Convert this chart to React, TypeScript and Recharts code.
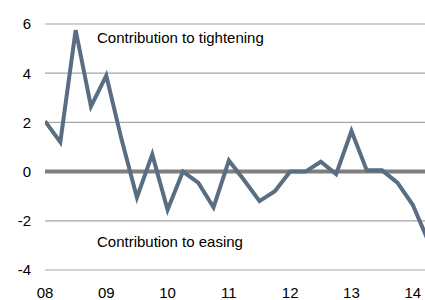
import React from 'react';
import { LineChart, Line, XAxis, YAxis, CartesianGrid, ReferenceLine } from 'recharts';

const quarters = [
  2008, 2008.25, 2008.5, 2008.75,
  2009, 2009.25, 2009.5, 2009.75,
  2010, 2010.25, 2010.5, 2010.75,
  2011, 2011.25, 2011.5, 2011.75,
  2012, 2012.25, 2012.5, 2012.75,
  2013, 2013.25, 2013.5, 2013.75,
  2014, 2014.25,
];
const values = [
  2.05, 1.2, 5.75, 2.65,
  3.9, 1.3, -1.05, 0.7,
  -1.55, 0.0, -0.45, -1.45,
  0.45, -0.35, -1.2, -0.8,
  0.0, 0.0, 0.4, -0.1,
  1.65, 0.05, 0.05, -0.45,
  -1.35, -2.8,
];
const xTicks = [2008, 2009, 2010, 2011, 2012, 2013, 2014];
const yTicks = [-4, -2, 0, 2, 4, 6];
const annotationTop = 'Contribution to tightening';
const annotationBottom = 'Contribution to easing';

const data = quarters.map((q, i) => ({ q, v: values[i] }));

const font = 'Liberation Sans, Arial, sans-serif';

export default function App() {
  return (
    <div style={{ position: 'absolute', left: 0, top: 0, width: 425, height: 300, fontFamily: font }}>
      <LineChart width={425} height={300} data={data} margin={{ top: 24, right: 0, bottom: 0, left: 0 }}>
        <CartesianGrid vertical={false} stroke="#a6a6a6" strokeWidth={1.2} />
        <XAxis
          dataKey="q"
          type="number"
          domain={[2008, 2014.2]}
          allowDataOverflow
          ticks={xTicks}
          tickFormatter={(v: number) => String(v).slice(2)}
          axisLine={false}
          tickLine={false}
          tickMargin={11}
          height={30}
          tick={{ fill: '#000', fontSize: 15, fontFamily: font }}
          interval={0}
        />
        <YAxis
          domain={[-4, 6]}
          ticks={yTicks}
          axisLine={false}
          tickLine={false}
          tickMargin={8}
          width={45}
          tick={{ fill: '#000', fontSize: 15, fontFamily: font }}
          interval={0}
        />
        <ReferenceLine y={0} stroke="#7f7f7f" strokeWidth={4} />
        <Line
          type="linear"
          dataKey="v"
          stroke="#596d83"
          strokeWidth={4}
          dot={false}
          isAnimationActive={false}
        />
      </LineChart>
      <div style={{ position: 'absolute', left: 97, top: 29, fontSize: 15, color: '#000', whiteSpace: 'nowrap' }}>
        {annotationTop}
      </div>
      <div style={{ position: 'absolute', left: 97, top: 233, fontSize: 15, color: '#000', whiteSpace: 'nowrap' }}>
        {annotationBottom}
      </div>
    </div>
  );
}
